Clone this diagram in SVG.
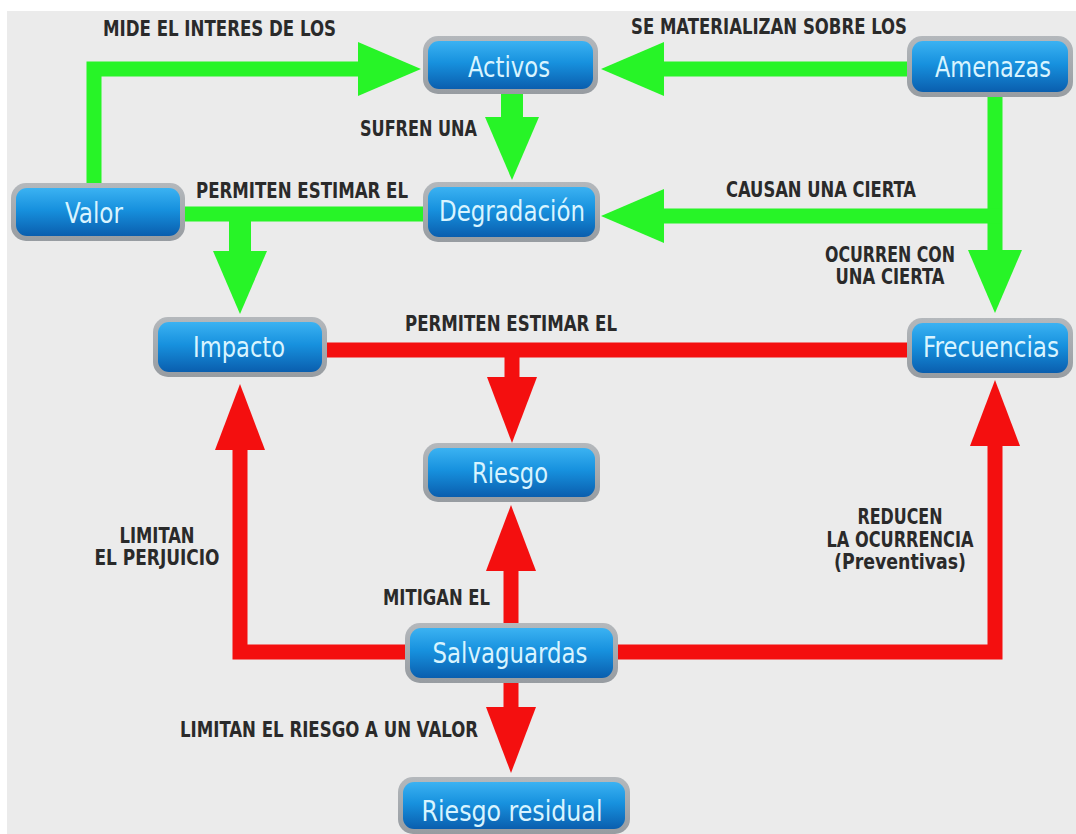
<svg xmlns="http://www.w3.org/2000/svg" width="1076" height="834" viewBox="0 0 1076 834">
  <defs>
    <linearGradient id="blue" x1="0" y1="0" x2="0" y2="1">
      <stop offset="0" stop-color="#3bb2f2"/>
      <stop offset="0.45" stop-color="#1791de"/>
      <stop offset="1" stop-color="#0a5eae"/>
    </linearGradient>
    <linearGradient id="rim" x1="0" y1="0" x2="0" y2="1">
      <stop offset="0" stop-color="#b4b8bc"/>
      <stop offset="1" stop-color="#979ca1"/>
    </linearGradient>
    <marker id="ahGreen" markerUnits="userSpaceOnUse" viewBox="0 0 63 54" markerWidth="63" markerHeight="54" refX="0" refY="27" orient="auto">
      <path d="M0,0 L63,27 L0,54 Z" fill="#27f427"/>
    </marker>
    <marker id="ahRed" markerUnits="userSpaceOnUse" viewBox="0 0 66 50" markerWidth="66" markerHeight="50" refX="0" refY="25" orient="auto">
      <path d="M0,0 L66,25 L0,50 Z" fill="#f40f0f"/>
    </marker>
    <style>
      .g { fill: none; stroke: #27f427; stroke-width: 15; stroke-linejoin: miter; }
      .g.wide { stroke-width: 22; }
      .r { fill: none; stroke: #f40f0f; stroke-width: 15; stroke-linejoin: miter; }
      .ga { marker-end: url(#ahGreen); }
      .ra { marker-end: url(#ahRed); }
      .rim { fill: url(#rim); }
      .face { fill: url(#blue); }
      .name { font-family: "Liberation Sans Narrow", "DejaVu Sans Condensed", "DejaVu Sans", sans-serif; font-stretch: condensed; font-size: 29px; fill: #d8f4ff; text-anchor: middle; }
      .lbl { font-family: "DejaVu Sans Condensed", "DejaVu Sans", sans-serif; font-stretch: condensed; font-weight: bold; font-size: 21px; fill: #2a2a2a; }
      .mid { text-anchor: middle; }
    </style>
  </defs>

  <!-- canvas -->
  <rect x="0" y="0" width="1076" height="834" fill="#ffffff"/>
  <rect x="7" y="11" width="1069" height="823" fill="#ebebeb"/>

  <!-- connectors -->
  <g id="connectors">
    <path class="g ga" d="M94,185 V69 H358"/>
    <path class="g ga" d="M909,69 H664"/>
    <path class="g wide ga" d="M512,92 V117"/>
    <path class="g" d="M183,214 H425"/>
    <path class="g wide ga" d="M240,214 V251"/>
    <path class="g ga" d="M995,96 V250"/>
    <path class="g ga" d="M1002,216 H664"/>

    <path class="r" d="M325,350 H909"/>
    <path class="r ra" d="M512,350 V377"/>
    <path class="r ra" d="M511,625 V571"/>
    <path class="r ra" d="M407,652 H240 V450"/>
    <path class="r ra" d="M616,652 H995 V446"/>
    <path class="r ra" d="M511,681 V707"/>
  </g>

  <!-- connector labels -->
  <g id="labels">
    <text class="lbl" x="103" y="36" textLength="233" lengthAdjust="spacingAndGlyphs">MIDE EL INTERES DE LOS</text>
    <text class="lbl" x="631" y="34" textLength="276" lengthAdjust="spacingAndGlyphs">SE MATERIALIZAN SOBRE LOS</text>
    <text class="lbl" x="360" y="136" textLength="117" lengthAdjust="spacingAndGlyphs">SUFREN UNA</text>
    <text class="lbl" x="196" y="198" textLength="212" lengthAdjust="spacingAndGlyphs">PERMITEN ESTIMAR EL</text>
    <text class="lbl" x="726" y="197" textLength="190" lengthAdjust="spacingAndGlyphs">CAUSAN UNA CIERTA</text>
    <text class="lbl mid" x="890" y="262" textLength="130" lengthAdjust="spacingAndGlyphs">OCURREN CON</text>
    <text class="lbl mid" x="890" y="284" textLength="109" lengthAdjust="spacingAndGlyphs">UNA CIERTA</text>
    <text class="lbl" x="405" y="331" textLength="212" lengthAdjust="spacingAndGlyphs">PERMITEN ESTIMAR EL</text>
    <text class="lbl mid" x="157" y="543" textLength="75" lengthAdjust="spacingAndGlyphs">LIMITAN</text>
    <text class="lbl mid" x="157" y="565" textLength="125" lengthAdjust="spacingAndGlyphs">EL PERJUICIO</text>
    <text class="lbl mid" x="900" y="524" textLength="85" lengthAdjust="spacingAndGlyphs">REDUCEN</text>
    <text class="lbl mid" x="900" y="547" textLength="147" lengthAdjust="spacingAndGlyphs">LA OCURRENCIA</text>
    <text class="lbl mid" x="900" y="569" textLength="132" lengthAdjust="spacingAndGlyphs">(Preventivas)</text>
    <text class="lbl" x="383" y="605" textLength="107" lengthAdjust="spacingAndGlyphs">MITIGAN EL</text>
    <text class="lbl" x="180" y="737" textLength="298" lengthAdjust="spacingAndGlyphs">LIMITAN EL RIESGO A UN VALOR</text>
  </g>

  <!-- nodes -->
  <g id="node-activos">
    <rect class="rim" x="423" y="36" width="175" height="58" rx="15"/>
    <rect class="face" x="428" y="41" width="165" height="48" rx="11"/>
    <text class="name" x="509" y="77" textLength="82" lengthAdjust="spacingAndGlyphs">Activos</text>
  </g>
  <g id="node-amenazas">
    <rect class="rim" x="907" y="36" width="166" height="61" rx="15"/>
    <rect class="face" x="912" y="41" width="156" height="51" rx="11"/>
    <text class="name" x="993" y="77" textLength="116" lengthAdjust="spacingAndGlyphs">Amenazas</text>
  </g>
  <g id="node-valor">
    <rect class="rim" x="11" y="183" width="174" height="58" rx="15"/>
    <rect class="face" x="16" y="188" width="164" height="48" rx="11"/>
    <text class="name" x="94" y="223" textLength="58" lengthAdjust="spacingAndGlyphs">Valor</text>
  </g>
  <g id="node-degradacion">
    <rect class="rim" x="423" y="182" width="177" height="60" rx="15"/>
    <rect class="face" x="428" y="187" width="167" height="50" rx="11"/>
    <text class="name" x="512" y="221" textLength="146" lengthAdjust="spacingAndGlyphs">Degradación</text>
  </g>
  <g id="node-impacto">
    <rect class="rim" x="153" y="317" width="174" height="60" rx="15"/>
    <rect class="face" x="158" y="322" width="164" height="50" rx="11"/>
    <text class="name" x="239" y="357" textLength="92" lengthAdjust="spacingAndGlyphs">Impacto</text>
  </g>
  <g id="node-frecuencias">
    <rect class="rim" x="907" y="318" width="166" height="60" rx="15"/>
    <rect class="face" x="912" y="323" width="156" height="50" rx="11"/>
    <text class="name" x="991" y="357" textLength="136" lengthAdjust="spacingAndGlyphs">Frecuencias</text>
  </g>
  <g id="node-riesgo">
    <rect class="rim" x="423" y="443" width="177" height="59" rx="15"/>
    <rect class="face" x="428" y="448" width="167" height="49" rx="11"/>
    <text class="name" x="510" y="483" textLength="76" lengthAdjust="spacingAndGlyphs">Riesgo</text>
  </g>
  <g id="node-salvaguardas">
    <rect class="rim" x="405" y="623" width="213" height="60" rx="15"/>
    <rect class="face" x="410" y="628" width="203" height="50" rx="11"/>
    <text class="name" x="510" y="663" textLength="155" lengthAdjust="spacingAndGlyphs">Salvaguardas</text>
  </g>
  <g id="node-riesgo-residual">
    <rect class="rim" x="398" y="777" width="232" height="57" rx="15"/>
    <rect class="face" x="403" y="782" width="222" height="47" rx="11"/>
    <text class="name" x="512" y="821" textLength="181" lengthAdjust="spacingAndGlyphs">Riesgo residual</text>
  </g>
</svg>
